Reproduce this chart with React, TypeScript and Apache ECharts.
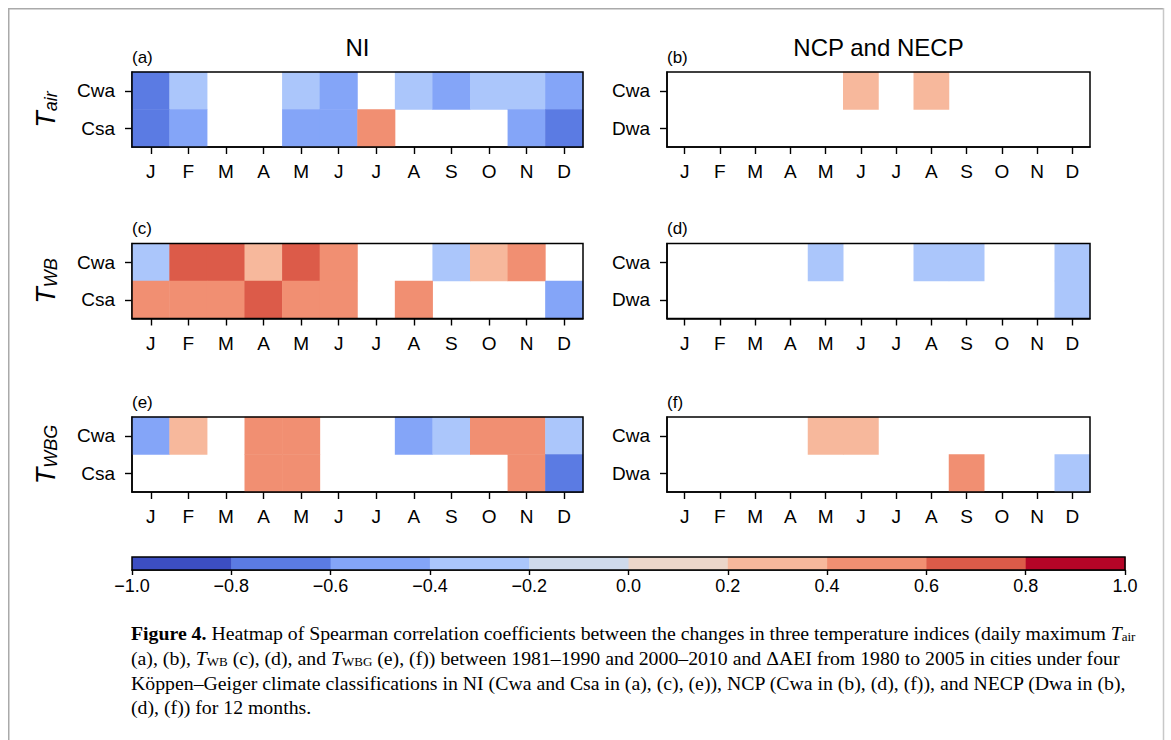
import React, { useEffect, useRef } from 'react';
import * as echarts from 'echarts';

// ---------- data ----------
const MONTHS = ['Jan', 'Feb', 'Mar', 'Apr', 'May', 'Jun', 'Jul', 'Aug', 'Sep', 'Oct', 'Nov', 'Dec'];
const MONTH_TICKS = ['J', 'F', 'M', 'A', 'M', 'J', 'J', 'A', 'S', 'O', 'N', 'D'];
const NI_ZONES = ['Csa', 'Cwa']; // bottom -> top
const NE_ZONES = ['Dwa', 'Cwa']; // bottom -> top

const N = null;
// (a) NI, T_air
const A_CWA = [-0.7, -0.3, N, N, -0.3, -0.5, N, -0.3, -0.5, -0.3, -0.3, -0.5];
const A_CSA = [-0.7, -0.5, N, N, -0.5, -0.5, 0.5, N, N, N, -0.5, -0.7];
// (b) NCP & NECP, T_air
const B_CWA = [N, N, N, N, N, 0.3, N, 0.3, N, N, N, N];
const B_DWA = [N, N, N, N, N, N, N, N, N, N, N, N];
// (c) NI, T_WB
const C_CWA = [-0.3, 0.7, 0.7, 0.3, 0.7, 0.5, N, N, -0.3, 0.3, 0.5, N];
const C_CSA = [0.5, 0.5, 0.5, 0.7, 0.5, 0.5, N, 0.5, N, N, N, -0.5];
// (d) NCP & NECP, T_WB
const D_CWA = [N, N, N, N, -0.3, N, N, -0.3, -0.3, N, N, -0.3];
const D_DWA = [N, N, N, N, N, N, N, N, N, N, N, -0.3];
// (e) NI, T_WBG
const E_CWA = [-0.5, 0.3, N, 0.5, 0.5, N, N, -0.5, -0.3, 0.5, 0.5, -0.3];
const E_CSA = [N, N, N, 0.5, 0.5, N, N, N, N, N, 0.5, -0.7];
// (f) NCP & NECP, T_WBG
const F_CWA = [N, N, N, N, 0.3, 0.3, N, N, N, N, N, N];
const F_DWA = [N, N, N, N, N, N, N, N, 0.5, N, N, -0.3];

const COLORBAR_TICKS = [-1.0, -0.8, -0.6, -0.4, -0.2, 0.0, 0.2, 0.4, 0.6, 0.8, 1.0];
const BIN_COLORS = [
  '#3c4ec2', '#5b7be3', '#84a5f8', '#abc6fb', '#cfdaeb',
  '#ecd6ca', '#f7b89c', '#f18f72', '#dc5b49', '#b50527',
];

// ---------- layout ----------
const SANS = 'Liberation Sans, Arial, Helvetica, sans-serif';
const SERIF = 'Liberation Serif, Times New Roman, serif';
const COL_LEFT = [124, 659];
const COL_WIDTH = [451, 423];
const ROW_TOP = [64, 235.5, 409];
const ROW_H = 75;
const CB = { left: 124, top: 549, width: 993, height: 13 };

const PANELS = [
  { label: '(a)', row: 0, col: 0, zones: NI_ZONES, top: A_CWA, bottom: A_CSA },
  { label: '(b)', row: 0, col: 1, zones: NE_ZONES, top: B_CWA, bottom: B_DWA },
  { label: '(c)', row: 1, col: 0, zones: NI_ZONES, top: C_CWA, bottom: C_CSA },
  { label: '(d)', row: 1, col: 1, zones: NE_ZONES, top: D_CWA, bottom: D_DWA },
  { label: '(e)', row: 2, col: 0, zones: NI_ZONES, top: E_CWA, bottom: E_CSA },
  { label: '(f)', row: 2, col: 1, zones: NE_ZONES, top: F_CWA, bottom: F_DWA },
];
const COL_TITLES = ['NI', 'NCP and NECP'];
const ROW_TITLES = [
  ['T', 'air'],
  ['T', 'WB'],
  ['T', 'WBG'],
];

const CAPTION = [
  '{b|Figure 4.} Heatmap of Spearman correlation coefficients between the changes in three temperature indices (daily maximum {i|T}{s|air}',
  '(a), (b), {i|T}{s|WB} (c), (d), and {i|T}{s|WBG} (e), (f)) between 1981–1990 and 2000–2010 and ΔAEI from 1980 to 2005 in cities under four',
  'Köppen–Geiger climate classifications in NI (Cwa and Csa in (a), (c), (e)), NCP (Cwa in (b), (d), (f)), and NECP (Dwa in (b),',
  '(d), (f)) for 12 months.',
];

function buildOption() {
  const grids: any[] = [];
  const xAxes: any[] = [];
  const yAxes: any[] = [];
  const series: any[] = [];
  const graphics: any[] = [];

  PANELS.forEach((p, i) => {
    const left = COL_LEFT[p.col];
    const width = COL_WIDTH[p.col];
    const top = ROW_TOP[p.row];
    grids.push({ left, top, width, height: ROW_H });
    xAxes.push({
      type: 'category',
      gridIndex: i,
      data: MONTHS,
      axisLine: { show: true, lineStyle: { color: '#000', width: 1.5 } },
      axisTick: { show: true, alignWithLabel: true, length: 7, lineStyle: { color: '#000', width: 1.4 } },
      axisLabel: {
        color: '#000', fontSize: 19, fontFamily: SANS, margin: 15, interval: 0,
        formatter: (_v: string, idx: number) => MONTH_TICKS[idx],
      },
      splitLine: { show: false },
    });
    yAxes.push({
      type: 'category',
      gridIndex: i,
      data: p.zones,
      axisLine: { show: true, lineStyle: { color: '#000', width: 1.5 } },
      axisTick: { show: true, alignWithLabel: true, length: 7, lineStyle: { color: '#000', width: 1.4 } },
      axisLabel: { color: '#000', fontSize: 19, fontFamily: SANS, margin: 17 },
      splitLine: { show: false },
    });
    const data: any[] = [];
    p.top.forEach((v, x) => { if (v !== null) data.push([x, 1, v]); });
    p.bottom.forEach((v, x) => { if (v !== null) data.push([x, 0, v]); });
    series.push({
      type: 'heatmap',
      xAxisIndex: i,
      yAxisIndex: i,
      data,
      silent: true,
      itemStyle: { borderWidth: 0 },
      emphasis: { disabled: true },
    });
    graphics.push({
      type: 'rect',
      z: 100,
      silent: true,
      shape: { x: left, y: top, width, height: ROW_H },
      style: { fill: 'none', stroke: '#000', lineWidth: 1.5 },
    });
    graphics.push({
      type: 'text',
      z: 100,
      x: left,
      y: top - 15,
      style: { text: p.label, fontSize: 17, fontFamily: SANS, fill: '#000', align: 'left', verticalAlign: 'middle' },
    });
  });

  // colorbar
  const cbIndex = PANELS.length;
  grids.push({ left: CB.left, top: CB.top, width: CB.width, height: CB.height });
  xAxes.push({
    type: 'value',
    gridIndex: cbIndex,
    min: -1,
    max: 1,
    interval: 0.2,
    axisLine: { show: true, lineStyle: { color: '#000', width: 1.5 } },
    axisTick: { show: true, length: 5, lineStyle: { color: '#000', width: 1.4 } },
    axisLabel: {
      color: '#000', fontSize: 18, fontFamily: SANS, margin: 7,
      formatter: (v: number) => (v < -1e-9 ? '\u2212' : '') + Math.abs(v).toFixed(1),
    },
    splitLine: { show: false },
  });
  yAxes.push({ type: 'value', gridIndex: cbIndex, min: 0, max: 1, show: false });
  const bins = BIN_COLORS.map((_c, k) => [COLORBAR_TICKS[k], COLORBAR_TICKS[k + 1], k]);
  series.push({
    type: 'custom',
    xAxisIndex: cbIndex,
    yAxisIndex: cbIndex,
    data: bins,
    silent: true,
    renderItem: (_params: any, api: any) => {
      const p0 = api.coord([api.value(0), 1]);
      const p1 = api.coord([api.value(1), 0]);
      return {
        type: 'rect',
        shape: { x: p0[0], y: p0[1], width: p1[0] - p0[0] + 0.5, height: p1[1] - p0[1] },
        style: { fill: BIN_COLORS[api.value(2)] },
      };
    },
  });
  graphics.push({
    type: 'rect',
    z: 100,
    silent: true,
    shape: { x: CB.left, y: CB.top, width: CB.width, height: CB.height },
    style: { fill: 'none', stroke: '#000', lineWidth: 1.5 },
  });

  // column titles
  COL_TITLES.forEach((t, c) => {
    graphics.push({
      type: 'text',
      z: 100,
      x: COL_LEFT[c] + COL_WIDTH[c] / 2,
      y: 39,
      style: { text: t, fontSize: 24, fontFamily: SANS, fill: '#000', align: 'center', verticalAlign: 'middle' },
    });
  });

  // row titles (rotated)
  ROW_TITLES.forEach((t, r) => {
    graphics.push({
      type: 'text',
      z: 100,
      x: 38,
      y: ROW_TOP[r] + ROW_H / 2,
      rotation: Math.PI / 2,
      style: {
        text: `{t|${t[0]}}{s|${t[1]}}`,
        align: 'center',
        verticalAlign: 'middle',
        fill: '#000',
        rich: {
          t: { fontSize: 27, fontStyle: 'italic', fontFamily: SANS, fill: '#000', lineHeight: 27 },
          s: { fontSize: 18, fontStyle: 'italic', fontFamily: SANS, fill: '#000', lineHeight: 14, verticalAlign: 'bottom' },
        },
      },
    });
  });

  // caption
  const capY = [625, 650, 675, 699];
  CAPTION.forEach((line, k) => {
    graphics.push({
      type: 'text',
      z: 100,
      x: 123,
      y: capY[k],
      style: {
        text: line,
        fontSize: 19.8,
        fontFamily: SERIF,
        fill: '#000',
        align: 'left',
        verticalAlign: 'middle',
        rich: {
          b: { fontSize: 19.8, fontWeight: 'bold', fontFamily: SERIF, fill: '#000' },
          i: { fontSize: 19.8, fontStyle: 'italic', fontFamily: SERIF, fill: '#000', lineHeight: 20 },
          s: { fontSize: 13, fontFamily: SERIF, fill: '#000', lineHeight: 10, verticalAlign: 'bottom' },
        },
      },
    });
  });

  // page frame
  graphics.push({ type: 'line', z: 100, shape: { x1: 0, y1: 0.75, x2: 1156, y2: 0.75 }, style: { stroke: '#aaaaaa', lineWidth: 1.5 } });
  graphics.push({ type: 'line', z: 100, shape: { x1: 0.75, y1: 0, x2: 0.75, y2: 732 }, style: { stroke: '#aaaaaa', lineWidth: 1.5 } });
  graphics.push({ type: 'line', z: 100, shape: { x1: 1155.5, y1: 0, x2: 1155.5, y2: 732 }, style: { stroke: '#c8c8c8', lineWidth: 1.5 } });

  const pieces = BIN_COLORS.map((color, k) => ({ gte: COLORBAR_TICKS[k], lt: COLORBAR_TICKS[k + 1] + (k === BIN_COLORS.length - 1 ? 1e-6 : 0), color }));

  return {
    animation: false,
    backgroundColor: '#ffffff',
    grid: grids,
    xAxis: xAxes,
    yAxis: yAxes,
    visualMap: {
      type: 'piecewise',
      show: false,
      seriesIndex: PANELS.map((_p, i) => i),
      pieces,
    },
    series,
    graphic: { elements: graphics },
  };
}

export default function App() {
  const ref = useRef<HTMLDivElement>(null);
  useEffect(() => {
    if (!ref.current) return;
    const chart = echarts.init(ref.current, undefined, { renderer: 'svg' });
    chart.setOption(buildOption() as any);
    return () => chart.dispose();
  }, []);
  return (
    <div
      ref={ref}
      style={{ position: 'absolute', left: 8, top: 8, width: 1157, height: 732 }}
    />
  );
}
